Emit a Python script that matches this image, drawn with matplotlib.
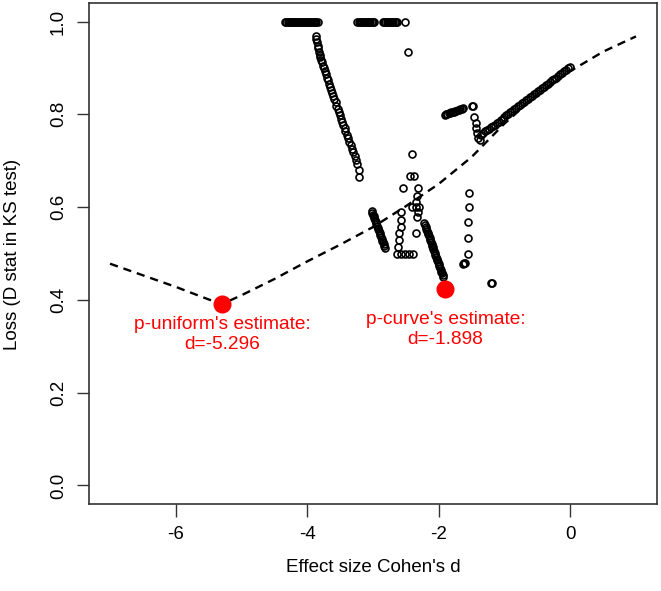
import matplotlib
matplotlib.use("Agg")
import matplotlib.pyplot as plt

plt.rcParams["font.family"] = ["Liberation Sans", "DejaVu Sans"]

# dashed loss curve
curve_d = [-7.0, -6.5, -6.0, -5.5, -5.296, -5.0, -4.5, -4.0, -3.5, -3.0, -2.5, -2.0, -1.5, -1.0, -0.5, 0.0, 0.5, 1.0]
curve_loss = [0.478, 0.453, 0.428, 0.401, 0.391, 0.410, 0.445, 0.483, 0.519, 0.557, 0.602, 0.650, 0.708, 0.780, 0.843, 0.893, 0.935, 0.968]

# loss = 1 runs along the top
top_d = [-4.34, -4.32, -4.30, -4.28, -4.26, -4.24, -4.22, -4.20, -4.18, -4.16, -4.14, -4.12, -4.10,
         -4.08, -4.06, -4.04, -4.02, -4.00, -3.98, -3.96, -3.94, -3.92, -3.90, -3.88, -3.86, -3.84,
         -3.24, -3.22, -3.20, -3.18, -3.16, -3.14, -3.12, -3.10, -3.08, -3.06, -3.04, -3.02, -3.00, -2.98,
         -2.85, -2.83, -2.81, -2.79, -2.77, -2.75, -2.73, -2.71, -2.69, -2.67, -2.65, -2.63,
         -2.51]
top_loss = [1.0] * len(top_d)

# long descending streak
desc_d = [-3.87, -3.86, -3.85, -3.84, -3.83, -3.82, -3.81, -3.80, -3.79, -3.78, -3.76, -3.75, -3.73, -3.72,
          -3.70, -3.69, -3.67, -3.66, -3.64, -3.62, -3.61, -3.59, -3.57, -3.56, -3.54, -3.52, -3.50, -3.49,
          -3.47, -3.45, -3.43, -3.42, -3.40, -3.38, -3.36, -3.34, -3.32, -3.30, -3.28, -3.26, -3.24, -3.22, -3.21]
desc_loss = [0.962, 0.968, 0.955, 0.948, 0.942, 0.935, 0.928, 0.924, 0.918, 0.912, 0.905, 0.899, 0.893, 0.886,
             0.879, 0.873, 0.866, 0.860, 0.853, 0.846, 0.840, 0.833, 0.826, 0.819, 0.812, 0.805, 0.798, 0.791,
             0.784, 0.777, 0.770, 0.763, 0.756, 0.748, 0.741, 0.734, 0.726, 0.718, 0.710, 0.702, 0.694, 0.680, 0.665]

# short runs in the middle
mid_d = [-3.02, -3.01, -3.00, -2.99, -2.98, -2.97, -2.96, -2.95, -2.94, -2.93, -2.92, -2.91, -2.90, -2.89,
         -2.88, -2.87, -2.86, -2.85, -2.84, -2.83, -2.82,
         -2.22, -2.21, -2.20, -2.19, -2.18, -2.17, -2.16, -2.15, -2.14, -2.13, -2.12, -2.11, -2.10, -2.09,
         -2.08, -2.07, -2.06, -2.05, -2.04, -2.03, -2.02, -2.01, -2.00, -1.99, -1.98, -1.97, -1.96, -1.95,
         -1.94, -1.93]
mid_loss = [0.592, 0.588, 0.584, 0.580, 0.576, 0.572, 0.568, 0.564, 0.560, 0.556, 0.552, 0.548, 0.544, 0.540,
            0.536, 0.532, 0.528, 0.524, 0.520, 0.516, 0.512,
            0.565, 0.561, 0.557, 0.553, 0.549, 0.545, 0.541, 0.537, 0.533, 0.529, 0.525, 0.521, 0.517, 0.513,
            0.509, 0.505, 0.501, 0.497, 0.493, 0.489, 0.485, 0.481, 0.477, 0.473, 0.469, 0.465, 0.461, 0.457,
            0.453, 0.449]

# scattered single points
single_d = [-2.47, -2.40, -2.43, -2.37, -2.54, -2.31, -2.33, -2.35, -2.30, -2.35, -2.40, -2.32, -2.33,
            -2.57, -2.57, -2.58, -2.60, -2.61, -2.62, -2.63, -2.57, -2.51, -2.45, -2.39, -2.34,
            -1.54, -1.54, -1.55, -1.56, -1.56, -1.60, -1.63, -1.61, -1.19, -1.20]
single_loss = [0.935, 0.715, 0.667, 0.667, 0.642, 0.642, 0.624, 0.611, 0.600, 0.600, 0.600, 0.590, 0.579,
               0.590, 0.572, 0.557, 0.544, 0.529, 0.514, 0.500, 0.500, 0.500, 0.500, 0.500, 0.544,
               0.631, 0.600, 0.568, 0.533, 0.500, 0.480, 0.477, 0.479, 0.436, 0.437]

# upper right band
right_d = [-1.91, -1.89, -1.87, -1.85, -1.83, -1.81, -1.79, -1.77, -1.75, -1.73, -1.71, -1.69, -1.67, -1.65, -1.63,
           -1.50, -1.48, -1.46, -1.44, -1.43, -1.42, -1.40, -1.37,
           -1.36, -1.33, -1.30, -1.27, -1.24, -1.21, -1.18, -1.15, -1.12, -1.09, -1.06, -1.03, -1.00, -0.97,
           -0.94, -0.91, -0.88, -0.85, -0.82, -0.79, -0.76, -0.73, -0.70, -0.67, -0.64, -0.61, -0.58, -0.55,
           -0.52, -0.49, -0.46, -0.43, -0.40, -0.37, -0.34, -0.31, -0.28, -0.25, -0.22, -0.19, -0.16, -0.13,
           -0.10, -0.07, -0.04, -0.01]
right_loss = [0.799, 0.800, 0.801, 0.802, 0.803, 0.804, 0.805, 0.806, 0.807, 0.808, 0.809, 0.810, 0.811, 0.812, 0.814,
              0.819, 0.818, 0.795, 0.782, 0.771, 0.760, 0.749, 0.745,
              0.755, 0.760, 0.763, 0.766, 0.769, 0.772, 0.775, 0.778, 0.781, 0.784, 0.788, 0.791, 0.794, 0.798,
              0.801, 0.804, 0.808, 0.811, 0.814, 0.817, 0.821, 0.824, 0.827, 0.830, 0.834, 0.837, 0.840, 0.843,
              0.847, 0.850, 0.853, 0.857, 0.860, 0.863, 0.866, 0.870, 0.873, 0.876, 0.879, 0.883, 0.886, 0.889,
              0.893, 0.896, 0.899, 0.902]

# the two estimates
est_d = [-5.296, -1.898]
est_loss = [0.391, 0.423]
est_labels = ["p-uniform's estimate:\nd=-5.296", "p-curve's estimate:\nd=-1.898"]
label_loss = [0.326, 0.336]

W, H = 661, 591
fig = plt.figure(figsize=(W / 100, H / 100), dpi=100)
ax = fig.add_axes([89 / W, 87 / H, (657 - 89) / W, (504 - 3) / H])

ax.plot(curve_d, curve_loss, color="black", lw=1.7, ls=(0, (3.5, 2.5)), zorder=2)

pts_d = top_d + desc_d + mid_d + single_d + right_d
pts_loss = top_loss + desc_loss + mid_loss + single_loss + right_loss
ax.plot(pts_d, pts_loss, ls="none", marker="o", ms=5.0, mfc="none", mec="black", mew=1.2, zorder=3)

ax.plot(est_d, est_loss, ls="none", marker="o", ms=12, color="red", mec="red", zorder=4)
for x, y, s in zip(est_d, label_loss, est_labels):
    ax.text(x, y, s, color="red", ha="center", va="center", fontsize=13.8, linespacing=1.25)

ax.set_xlim(-7.32, 1.32)
ax.set_ylim(-0.04, 1.04)
ax.set_xticks([-6, -4, -2, 0])
ax.set_xticklabels(["-6", "-4", "-2", "0"])
ax.set_yticks([0.0, 0.2, 0.4, 0.6, 0.8, 1.0])
ax.set_yticklabels(["0.0", "0.2", "0.4", "0.6", "0.8", "1.0"], rotation=90, va="center")
ax.tick_params(length=9, width=1, color="#333333", labelsize=13.5, pad=7)

for sp in ax.spines.values():
    sp.set_color("#333333")
    sp.set_linewidth(1.2)

fig.text(373 / W, 1 - 567 / H, "Effect size Cohen's d", ha="center", va="center", fontsize=13.5)
fig.text(13 / W, 1 - 254 / H, "Loss (D stat in KS test)", ha="center", va="center", fontsize=13.5, rotation=90)

fig.savefig("out.png", dpi=100)
